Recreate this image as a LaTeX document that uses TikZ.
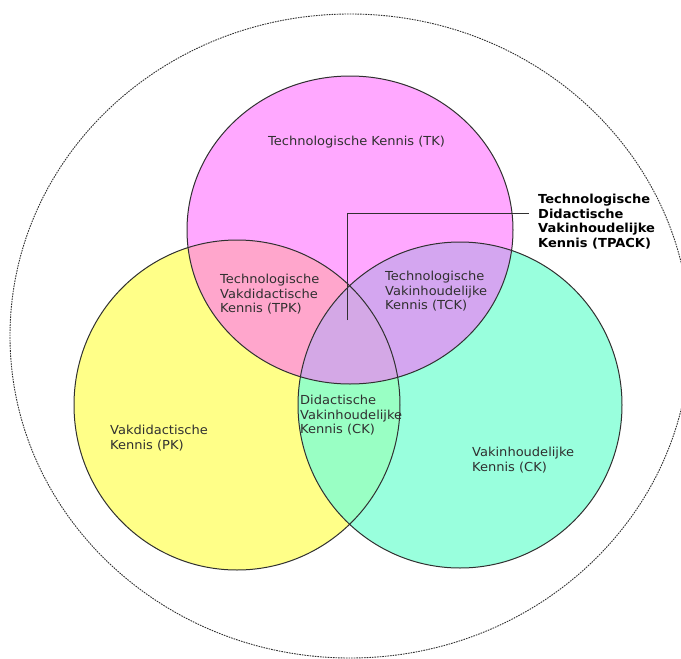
\documentclass[tikz,border=0pt]{standalone}
\usepackage{fontspec}
\setmainfont[FakeStretch=1.05]{DejaVu Sans}
\usetikzlibrary{positioning}
\definecolor{tkpink}{HTML}{FFA8FF}
\definecolor{pkyellow}{HTML}{FFFF88}
\definecolor{ckgreen}{HTML}{99FFDD}
\definecolor{tpkrose}{HTML}{FFA6CC}
\definecolor{tckviolet}{HTML}{D4A6F0}
\definecolor{pckgreen}{HTML}{99FFC4}
\definecolor{tpackmauve}{HTML}{D4A8E6}
\definecolor{ink}{HTML}{303030}

\def\tkcircle{(350,230) ellipse [x radius=163, y radius=154]}
\def\pkcircle{(237,405) ellipse [x radius=163, y radius=165]}
\def\ckcircle{(460,405) ellipse [x radius=162, y radius=163]}

\begin{document}
\begin{tikzpicture}[
    x=1pt, y=-1pt,
    font=\fontsize{12.4}{14.4}\selectfont,
    text=ink,
    setline/.style={draw=ink, line width=1pt},
    outerline/.style={draw=ink, line width=0.9pt, dash pattern=on 1.6pt off 1pt},
    areatext/.style={anchor=north west, inner sep=0pt, align=left},
    leader/.style={draw=ink, line width=0.9pt}
]
\useasboundingbox (0,0) rectangle (681,659);

% fills
\fill[tkpink] \tkcircle;
\fill[pkyellow] \pkcircle;
\fill[ckgreen] \ckcircle;
\begin{scope}
  \clip \tkcircle;
  \fill[tpkrose] \pkcircle;
  \fill[tckviolet] \ckcircle;
\end{scope}
\begin{scope}
  \clip \pkcircle;
  \fill[pckgreen] \ckcircle;
\end{scope}
\begin{scope}
  \clip \tkcircle;
  \clip \pkcircle;
  \fill[tpackmauve] \ckcircle;
\end{scope}

% outlines
\draw[setline] \tkcircle;
\draw[setline] \pkcircle;
\draw[setline] \ckcircle;
\draw[outerline] (350,336) ellipse [x radius=340, y radius=322];

\node[areatext] (tk) at (268,136) {Technologische Kennis (TK)};
\node[areatext] (tpk) at (220,274) {Technologische\\Vakdidactische\\Kennis (TPK)};
\node[areatext] (tck) at (385,271) {Technologische\\Vakinhoudelijke\\Kennis (TCK)};
\node[areatext] (pck) at (300,395) {Didactische\\Vakinhoudelijke\\Kennis (CK)};
\node[areatext] (pk) at (110,425) {Vakdidactische\\Kennis (PK)};
\node[areatext] (ck) at (472,447) {Vakinhoudelijke\\Kennis (CK)};
\node[areatext, font=\fontsize{12.4}{14.6}\selectfont\bfseries, text=black]
    (tpack) at (538,194) {Technologische\\Didactische\\Vakinhoudelijke\\Kennis (TPACK)};

\coordinate (core) at (347,320);
\coordinate (tpackend) at (529,213);
\draw[leader] (core) |- (tpackend);

\end{tikzpicture}
\end{document}
